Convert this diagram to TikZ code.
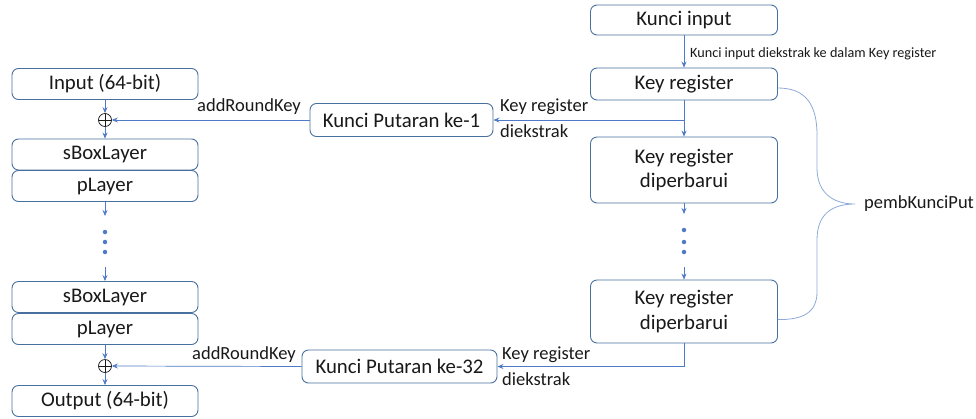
\documentclass[tikz,border=0pt]{standalone}
\usepackage{fontspec}
\setmainfont{Carlito}
\usetikzlibrary{arrows.meta,calc}
\definecolor{boxline}{RGB}{72,112,158}
\definecolor{conn}{RGB}{79,122,199}
\definecolor{bracec}{RGB}{143,170,215}
\definecolor{txt}{RGB}{25,25,25}
\tikzset{
  blk/.style={draw=boxline, line width=0.9pt, rounded corners=6.5pt, fill=white, text=txt,
    minimum width=186pt, minimum height=31pt, inner sep=0pt, align=center,
    font=\fontsize{20.8}{24.5}\selectfont},
  lbl/.style={text=txt, inner sep=0pt, font=\fontsize{18.5}{21}\selectfont},
  small/.style={text=txt, inner sep=0pt, font=\fontsize{14.2}{16}\selectfont},
  ar/.style={draw=conn, line width=0.7pt, -{Stealth[length=6pt,width=5pt]}},
  ln/.style={draw=conn, line width=0.7pt},
  xorn/.style={circle, draw=txt, line width=0.7pt, minimum size=13pt, inner sep=0pt,
    path picture={\draw[txt, line width=0.7pt] (path picture bounding box.north) -- (path picture bounding box.south) (path picture bounding box.west) -- (path picture bounding box.east);}},
  dotn/.style={circle, fill=conn, minimum size=4.5pt, inner sep=0pt}
}
\begin{document}
\begin{tikzpicture}[x=1pt,y=-1pt]
\useasboundingbox (0,0) rectangle (976,418);
% left column
\node[blk] (inp) at (105,84) {Input (64-bit)};
\node[xorn] (x1) at (105,120) {};
\node[blk] (sb1) at (105,154.5) {sBoxLayer};
\node[blk] (pl1) at (105,186) {pLayer};
\coordinate (la) at (105,216);
\node[dotn] (ld1) at (105,232) {};
\node[dotn] (ld2) at (105,242) {};
\node[dotn] (ld3) at (105,252) {};
\coordinate (lb) at (105,267);
\node[blk] (sb2) at (105,297) {sBoxLayer};
\node[blk] (pl2) at (105,329) {pLayer};
\node[xorn] (x2) at (105,366) {};
\node[blk] (out) at (105,401) {Output (64-bit)};
% right column
\node[blk, minimum width=187pt, minimum height=30pt] (ki) at (684,20) {Kunci input};
\node[blk, minimum width=187pt, minimum height=32pt] (kr) at (684,84) {Key register};
\node[blk, minimum width=187pt, minimum height=66pt] (kd1) at (684,170) {Key register\\diperbarui};
\coordinate (ra) at (684,214);
\node[dotn] (rd1) at (684,230) {};
\node[dotn] (rd2) at (684,242) {};
\node[dotn] (rd3) at (684,252) {};
\coordinate (rb) at (684,267);
\node[blk, minimum width=187pt, minimum height=63pt] (kd2) at (684,311.5) {Key register\\diperbarui};
% round keys
\node[blk, minimum width=183pt, minimum height=33pt] (kp1) at (401.5,120) {Kunci Putaran ke-1};
\node[blk, minimum width=195pt, minimum height=33pt] (kp2) at (399.5,366.5) {Kunci Putaran ke-32};
\coordinate (br1) at (684,120);
\coordinate (br2) at (684,366.5);
% connectors
\draw[ar] (inp.south) -- (x1.north);
\draw[ar] (x1.south) -- (sb1.north);
\draw[ar] (kp1.west) -- (x1.east);
\draw[ar] (pl1.south) -- (la);
\draw[ar] (lb) -- (sb2.north);
\draw[ar] (pl2.south) -- (x2.north);
\draw[ar] (x2.south) -- (out.north);
\draw[ar] (kp2.west) -- (x2.east);
\draw[ar] (ki.south) -- (kr.north);
\draw[ln] (kr.south) -- (br1);
\draw[ar] (br1) -- (kd1.north);
\draw[ar] (br1) -- (kp1.east);
\draw[ar] (kd1.south) -- (ra);
\draw[ar] (rb) -- (kd2.north);
\draw[ln] (kd2.south) -- (br2);
\draw[ar] (br2) -- (kp2.east);
% labels
\node[small, anchor=west] (lk) at (690,54) {Kunci input diekstrak ke dalam Key register};
\node[lbl] (ar1) at (249,107) {addRoundKey};
\node[lbl] (ar2) at (244,355) {addRoundKey};
\node[lbl, anchor=west] (ke1) at (500,107) {Key register};
\node[lbl, anchor=west] (de1) at (500,131) {diekstrak};
\node[lbl, anchor=west] (ke2) at (502,355) {Key register};
\node[lbl, anchor=west] (de2) at (502,379) {diekstrak};
% brace
\coordinate (bt) at (855,204);
\draw[draw=bracec, line width=0.8pt] ([yshift=-4pt]kr.east) .. controls (806,88) and (817,105) .. (817,135)
  -- (817,168) .. controls (817,192) and (832,204) .. (bt)
  .. controls (832,204) and (817,214) .. (817,240)
  -- (817,292) .. controls (817,313) and (802,320) .. ([yshift=-8pt]kd2.east);
\node[lbl, anchor=west] (pk) at (864,204) {pembKunciPut};
\end{tikzpicture}
\end{document}
